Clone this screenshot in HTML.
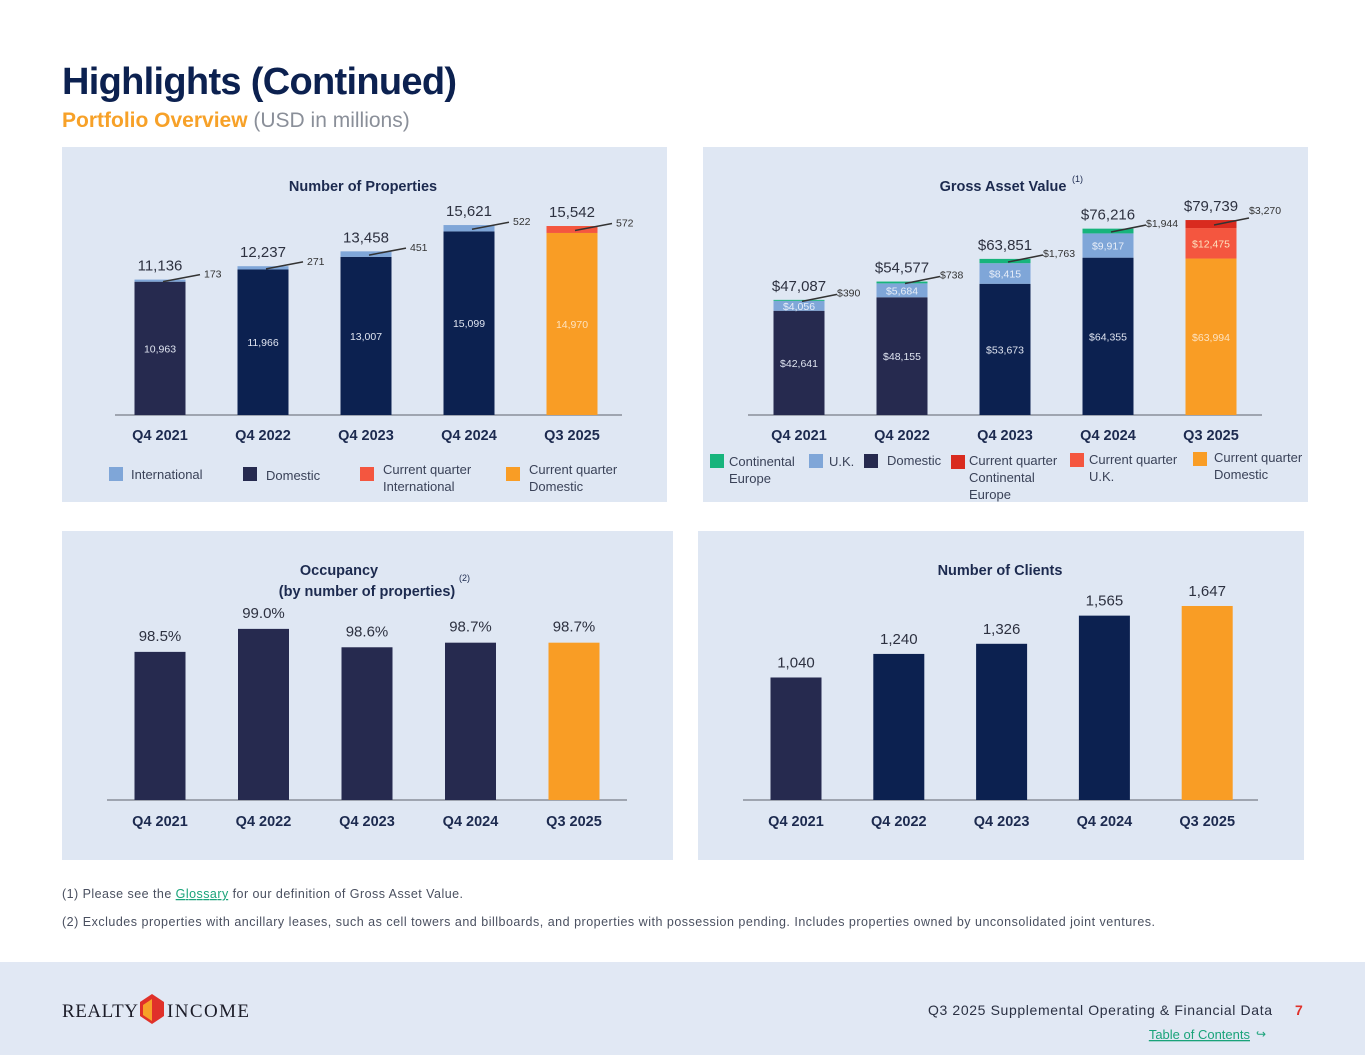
<!DOCTYPE html>
<html><head><meta charset="utf-8">
<style>
html,body{margin:0;padding:0;background:#fff;}
body{width:1365px;height:1055px;overflow:hidden;font-family:"Liberation Sans",sans-serif;}
svg text{font-family:"Liberation Sans",sans-serif;}
svg text.serif{font-family:"Liberation Serif",serif;}
</style></head>
<body>
<svg id="page" width="1365" height="1055" viewBox="0 0 1365 1055">
  <text x="62" y="94" font-size="38" font-weight="bold" fill="#0c2150" textLength="395">Highlights (Continued)</text>
  <text x="62" y="127" font-size="21"><tspan fill="#f7a128" font-weight="bold">Portfolio Overview</tspan><tspan fill="#8a8f99"> (USD in millions)</tspan></text>

  <rect x="62" y="147" width="605" height="355" fill="#dfe7f3"/>
  <rect x="703" y="147" width="605" height="355" fill="#dfe7f3"/>
  <rect x="62" y="531" width="611" height="329" fill="#dfe7f3"/>
  <rect x="698" y="531" width="606" height="329" fill="#dfe7f3"/>

  <text x="363" y="191" font-size="14.5" font-weight="bold" fill="#1c2a4f" text-anchor="middle">Number of Properties</text>
  <text x="1003" y="191" font-size="14.5" font-weight="bold" fill="#1c2a4f" text-anchor="middle">Gross Asset Value</text>
  <text x="1072" y="182" font-size="9" fill="#1c2a4f">(1)</text>
  <text x="339" y="575" font-size="14.5" font-weight="bold" fill="#1c2a4f" text-anchor="middle">Occupancy</text>
  <text x="367" y="596" font-size="14.5" font-weight="bold" fill="#1c2a4f" text-anchor="middle">(by number of properties)</text>
  <text x="459" y="581" font-size="9" fill="#1c2a4f">(2)</text>
  <text x="1000" y="575" font-size="14.5" font-weight="bold" fill="#1c2a4f" text-anchor="middle">Number of Clients</text>

  <g id="g-prop"></g>
  <g id="g-gav"></g>
  <g id="g-occ"></g>
  <g id="g-cli"></g>

  <g font-size="13" fill="#3a4258">
    <rect x="109" y="467" width="14" height="14" fill="#7fa6d8"/>
    <text x="131" y="479">International</text>
    <rect x="243" y="467" width="14" height="14" fill="#262a4f"/>
    <text x="266" y="480">Domestic</text>
    <rect x="360" y="467" width="14" height="14" fill="#f4563f"/>
    <text x="383" y="474">Current quarter</text>
    <text x="383" y="491">International</text>
    <rect x="506" y="467" width="14" height="14" fill="#f99d25"/>
    <text x="529" y="474">Current quarter</text>
    <text x="529" y="491">Domestic</text>
  </g>
  <g font-size="13" fill="#3a4258">
    <rect x="710" y="454" width="14" height="14" fill="#17b47c"/>
    <text x="729" y="466">Continental</text>
    <text x="729" y="483">Europe</text>
    <rect x="809" y="454" width="14" height="14" fill="#7fa6d8"/>
    <text x="829" y="466">U.K.</text>
    <rect x="864" y="454" width="14" height="14" fill="#262a4f"/>
    <text x="887" y="465">Domestic</text>
    <rect x="951" y="455" width="14" height="14" fill="#d92b1f"/>
    <text x="969" y="465">Current quarter</text>
    <text x="969" y="482">Continental</text>
    <text x="969" y="499">Europe</text>
    <rect x="1070" y="453" width="14" height="14" fill="#f4563f"/>
    <text x="1089" y="464">Current quarter</text>
    <text x="1089" y="481">U.K.</text>
    <rect x="1193" y="452" width="14" height="14" fill="#f99d25"/>
    <text x="1214" y="462">Current quarter</text>
    <text x="1214" y="479">Domestic</text>
  </g>

  <text x="62" y="898" font-size="12.5" fill="#4a5060" textLength="401">(1)  Please see the <tspan fill="#1aa37a" text-decoration="underline">Glossary</tspan> for our definition of Gross Asset Value.</text>
  <text x="62" y="926" font-size="12.5" fill="#4a5060" textLength="1093">(2)  Excludes properties with ancillary leases, such as cell towers and billboards, and properties with possession pending. Includes properties owned by unconsolidated joint ventures.</text>

  <rect x="0" y="962" width="1365" height="93" fill="#e1e8f4"/>
  <g>
    <text class="serif" x="62" y="1017" font-size="19" fill="#1c1c28" textLength="76">REALTY</text>
    <path d="M140 1002 L152 994 L164 1002 L164 1016 L152 1024 L140 1016 Z" fill="#e0312a"/>
    <path d="M143 1005 L152 999 L152 1021 L143 1015 Z" fill="#f7a128"/>
    <text class="serif" x="167" y="1017" font-size="19" fill="#1c1c28" textLength="82">INCOME</text>
  </g>
  <text x="928" y="1015" font-size="14" fill="#2a3042" textLength="344">Q3 2025 Supplemental Operating &amp; Financial Data</text>
  <text x="1295" y="1015" font-size="14" font-weight="bold" fill="#e0312a">7</text>
  <text x="1250" y="1039" font-size="13" fill="#1aa37a" text-anchor="end" text-decoration="underline">Table of Contents</text>
  <text x="1256" y="1038" font-size="12" fill="#1aa37a">↪</text>
</svg>
<script>
// ---- data ----
const categories = ["Q4 2021","Q4 2022","Q4 2023","Q4 2024","Q3 2025"];
const propDomestic = [10963,11966,13007,15099,14970];
const propIntl = [173,271,451,522,572];
const propTotal = ["11,136","12,237","13,458","15,621","15,542"];
const gavDomestic = [42641,48155,53673,64355,63994];
const gavUK = [4056,5684,8415,9917,12475];
const gavEurope = [390,738,1763,1944,3270];
const gavTotal = ["$47,087","$54,577","$63,851","$76,216","$79,739"];
const occupancy = [98.5,99.0,98.6,98.7,98.7];
const clients = [1040,1240,1326,1565,1647];

const NS="http://www.w3.org/2000/svg";
function mk(parent,tag,attrs,txt){const e=document.createElementNS(NS,tag);for(const k in attrs)e.setAttribute(k,attrs[k]);if(txt!==undefined)e.textContent=txt;parent.appendChild(e);return e;}
const fmt=n=>n.toLocaleString("en-US");
const domColor=(i,oldCount)=> i===4?"#f99d25":(i<oldCount?"#262a4f":"#0c2150");

function xBand(x0,step){return i=>x0+i*step;}
function yLin(base,pxPer,min){return v=>base-(v-min)*pxPer;}

function xLabels(g,x,base){categories.forEach((c,i)=>{const t=mk(g,"text",{x:x(i),y:base+25,"font-size":14.5,"font-weight":"bold",fill:"#1c2a4f","text-anchor":"middle"},c);

});}

(function(){
 const g=document.getElementById("g-prop");const base=415;const x=xBand(160,103);const y=yLin(base,0.01216,0);const w=51;
 mk(g,"line",{x1:115,x2:622,y1:base,y2:base,stroke:"#8a8f99","stroke-width":1.5});
 categories.forEach((c,i)=>{
  const yd=y(propDomestic[i]);const yt=y(propDomestic[i]+propIntl[i]);
  const d=mk(g,"rect",{x:x(i)-w/2,y:yd,width:w,height:base-yd,fill:domColor(i,1)});
  
  
  const s=mk(g,"rect",{x:x(i)-w/2,y:yt,width:w,height:yd-yt,fill:i===4?"#f4563f":"#7fa6d8"});
  
  
  mk(g,"text",{x:x(i),y:(yd+base)/2+4,"font-size":10.5,fill:i===4?"#fde2bf":"#dfe4f0","text-anchor":"middle"},fmt(propDomestic[i]));
  mk(g,"line",{x1:x(i)+3,y1:(yd+yt)/2+1,x2:x(i)+40,y2:(yd+yt)/2-6,stroke:"#333","stroke-width":1.5});
  mk(g,"text",{x:x(i)+44,y:(yd+yt)/2-3,"font-size":10.5,fill:"#333"},fmt(propIntl[i]));
  const t=mk(g,"text",{x:x(i),y:yt-9,"font-size":15,fill:"#2d3140","text-anchor":"middle"},propTotal[i]);
  
  
 });
 xLabels(g,x,base);
})();

(function(){
 const g=document.getElementById("g-gav");const base=415;const x=xBand(799,103);const y=yLin(base,0.002445,0);const w=51;
 mk(g,"line",{x1:748,x2:1262,y1:base,y2:base,stroke:"#8a8f99","stroke-width":1.5});
 categories.forEach((c,i)=>{
  const yd=y(gavDomestic[i]);const yu=y(gavDomestic[i]+gavUK[i]);const ye=y(gavDomestic[i]+gavUK[i]+gavEurope[i]);
  const cur=i===4;
  const d=mk(g,"rect",{x:x(i)-w/2,y:yd,width:w,height:base-yd,fill:domColor(i,2)});
  
  
  const u=mk(g,"rect",{x:x(i)-w/2,y:yu,width:w,height:yd-yu,fill:cur?"#f4563f":"#7fa6d8"});
  
  
  const e=mk(g,"rect",{x:x(i)-w/2,y:ye,width:w,height:yu-ye,fill:cur?"#d92b1f":"#17b47c"});
  
  
  mk(g,"text",{x:x(i),y:(yd+base)/2+4,"font-size":10.5,fill:cur?"#fde2bf":"#dfe4f0","text-anchor":"middle"},"$"+fmt(gavDomestic[i]));
  mk(g,"text",{x:x(i),y:(yd+yu)/2+4,"font-size":10.5,fill:cur?"#fde2bf":"#e8eef8","text-anchor":"middle"},"$"+fmt(gavUK[i]));
  mk(g,"line",{x1:x(i)+3,y1:(yu+ye)/2+1,x2:x(i)+38,y2:(yu+ye)/2-6,stroke:"#333","stroke-width":1.5});
  mk(g,"text",{x:x(i)+38,y:(yu+ye)/2-10+(i===4?0:6),"font-size":10.5,fill:"#333"},"$"+fmt(gavEurope[i]));
  const t=mk(g,"text",{x:x(i),y:ye-9,"font-size":15,fill:"#2d3140","text-anchor":"middle"},gavTotal[i]);
  
  
 });
 xLabels(g,x,base);
})();

(function(){
 const g=document.getElementById("g-occ");const base=800;const x=xBand(160,103.5);const y=yLin(base,46,95.28);const w=51;
 mk(g,"line",{x1:107,x2:627,y1:base,y2:base,stroke:"#8a8f99","stroke-width":1.5});
 occupancy.forEach((v,i)=>{
  const r=mk(g,"rect",{x:x(i)-w/2,y:y(v),width:w,height:base-y(v),fill:i===4?"#f99d25":"#262a4f"});
  
  
  mk(g,"text",{x:x(i),y:y(v)-11,"font-size":15,fill:"#2d3140","text-anchor":"middle"},v.toFixed(1)+"%");
 });
 xLabels(g,x,base+1);
})();

(function(){
 const g=document.getElementById("g-cli");const base=800;const x=xBand(796,102.8);const y=yLin(base,0.1178,0);const w=51;
 mk(g,"line",{x1:743,x2:1258,y1:base,y2:base,stroke:"#8a8f99","stroke-width":1.5});
 clients.forEach((v,i)=>{
  const r=mk(g,"rect",{x:x(i)-w/2,y:y(v),width:w,height:base-y(v),fill:domColor(i,1)});
  
  
  mk(g,"text",{x:x(i),y:y(v)-10,"font-size":15,fill:"#2d3140","text-anchor":"middle"},fmt(v));
 });
 xLabels(g,x,base+1);
})();
</script>
</body></html>
